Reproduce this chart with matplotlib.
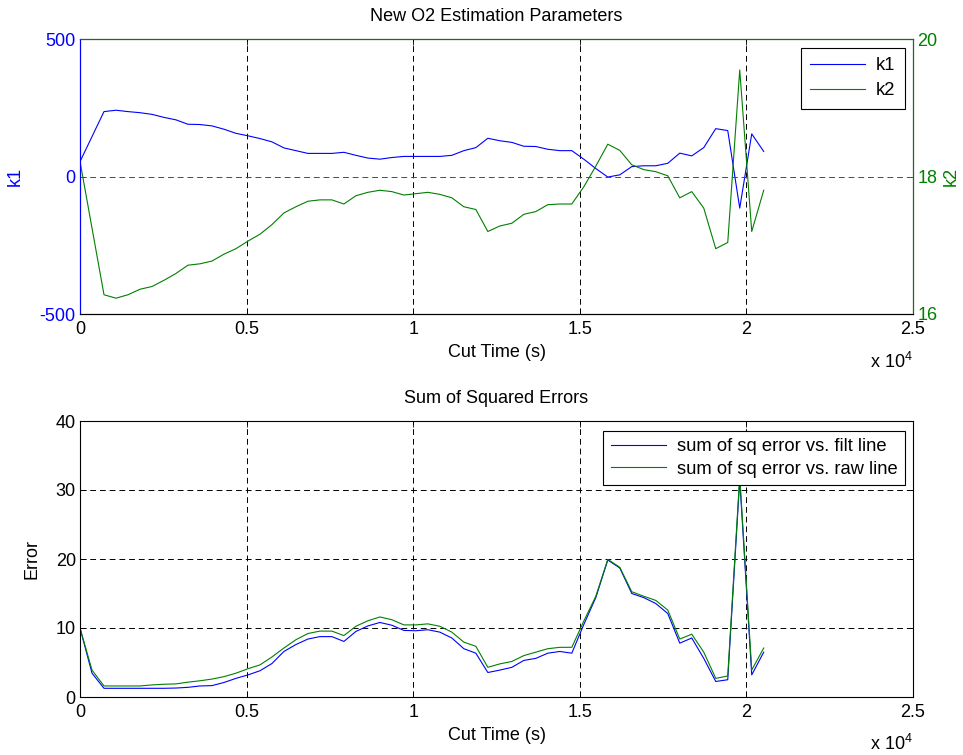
import matplotlib
matplotlib.use('Agg')
import matplotlib.pyplot as plt

plt.rcParams['font.family'] = ['Liberation Sans', 'DejaVu Sans']
plt.rcParams['mathtext.default'] = 'regular'
plt.rcParams['axes.unicode_minus'] = False

# ---- data ----
cut_time = [0, 360, 720, 1080, 1440, 1800, 2160, 2520, 2880, 3240, 3600, 3960,
            4320, 4680, 5040, 5400, 5760, 6120, 6480, 6840, 7200, 7560, 7920,
            8280, 8640, 9000, 9360, 9720, 10080, 10440, 10800, 11160, 11520,
            11880, 12240, 12600, 12960, 13320, 13680, 14040, 14400, 14760,
            15120, 15480, 15840, 16200, 16560, 16920, 17280, 17640, 18000,
            18360, 18720, 19080, 19440, 19800, 20160, 20520]

k1 = [54, 145, 236, 241, 236, 232, 226, 215, 206, 190, 189, 184, 172, 157, 148,
      138, 126, 104, 94, 84, 84, 84, 88, 77, 67, 63, 69, 73, 73, 73, 73, 77, 94,
      105, 139, 130, 124, 110, 109, 99, 94, 94, 63, 29, -2, 6, 36, 39, 39, 48,
      85, 75, 105, 174, 167, -115, 155, 91]

k2 = [18.22, 17.25, 16.28, 16.23, 16.28, 16.36, 16.40, 16.49, 16.59, 16.71,
      16.73, 16.77, 16.87, 16.95, 17.06, 17.16, 17.30, 17.47, 17.56, 17.64,
      17.66, 17.66, 17.60, 17.72, 17.77, 17.80, 17.78, 17.73, 17.75, 17.77,
      17.74, 17.69, 17.56, 17.52, 17.20, 17.28, 17.32, 17.45, 17.49, 17.59,
      17.60, 17.60, 17.85, 18.15, 18.47, 18.38, 18.17, 18.10, 18.07, 18.01,
      17.69, 17.78, 17.54, 16.95, 17.04, 19.55, 17.20, 17.80]

err_filt = [10.0, 3.45, 1.26, 1.26, 1.26, 1.26, 1.26, 1.26, 1.3, 1.4, 1.6, 1.65,
            2.1, 2.7, 3.2, 3.8, 4.85, 6.6, 7.6, 8.4, 8.75, 8.75, 8.05, 9.5, 10.3,
            10.8, 10.4, 9.65, 9.6, 9.75, 9.4, 8.55, 7.0, 6.35, 3.55, 3.9, 4.3,
            5.3, 5.6, 6.35, 6.6, 6.35, 10.5, 14.4, 19.85, 18.7, 15.0, 14.4,
            13.55, 12.1, 7.8, 8.55, 5.6, 2.25, 2.5, 31.5, 3.2, 6.5]

err_raw = [10.0, 3.9, 1.6, 1.6, 1.6, 1.6, 1.75, 1.85, 1.9, 2.15, 2.35, 2.6,
           2.95, 3.45, 4.1, 4.65, 5.8, 7.1, 8.3, 9.2, 9.55, 9.55, 8.9, 10.25,
           11.05, 11.6, 11.2, 10.45, 10.45, 10.6, 10.25, 9.4, 7.95, 7.35, 4.3,
           4.8, 5.15, 6.0, 6.5, 7.0, 7.2, 7.2, 11.0, 14.6, 19.95, 18.8, 15.25,
           14.6, 14.0, 12.6, 8.4, 9.1, 6.5, 2.7, 3.05, 32.0, 3.9, 7.1]

xticks = [0, 5000, 10000, 15000, 20000, 25000]
xtick_labels = ['0', '0.5', '1', '1.5', '2', '2.5']

BLUE = (0, 0, 1)
GREEN = (0, 0.5, 0)
FS = 13
LFS = 13.2
W, H = 963, 755

fig = plt.figure(figsize=(W / 100, H / 100), dpi=100)

def style_ax(ax):
    ax.tick_params(direction='in', length=4, width=0.6, labelsize=FS, pad=3)
    ax.tick_params(axis='x', pad=5)

DASH = (0, (6, 4))

# ---- top panel ----
ax1 = fig.add_axes([80 / W, 1 - 314 / H, 833 / W, 275 / H])
ax2 = ax1.twinx()
l1, = ax1.plot(cut_time, k1, color=BLUE, lw=0.8)
l2, = ax2.plot(cut_time, k2, color=GREEN, lw=0.8)
ax1.set_xlim(0, 25000)
ax1.set_ylim(-500, 500)
ax1.set_yticks([-500, 0, 500])
ax2.set_ylim(16, 20)
ax2.set_yticks([16, 18, 20])
ax1.set_xticks(xticks)
ax1.set_xticklabels(xtick_labels)
style_ax(ax1)
style_ax(ax2)
ax1.tick_params(axis='x', top=True)
ax1.tick_params(axis='y', colors=BLUE)
ax1.tick_params(axis='x', colors='k')
ax2.tick_params(axis='y', colors=GREEN)
ax1.grid(axis='x', color='k', ls=DASH, lw=0.7)
ax2.grid(axis='y', color=GREEN, ls=DASH, lw=0.7)
for s in ['top', 'bottom', 'left', 'right']:
    ax1.spines[s].set_linewidth(0.8)
    ax2.spines[s].set_linewidth(0.8)
ax1.spines['left'].set_color(BLUE)
ax2.spines['left'].set_color(BLUE)
ax2.spines['right'].set_color(GREEN)
ax2.spines['top'].set_color(GREEN)
ax2.spines['bottom'].set_color('k')
ax1.set_title('New O2 Estimation Parameters', fontsize=FS, pad=13)
ax1.set_xlabel('Cut Time (s)', fontsize=FS)
ax1.xaxis.set_label_coords(0.5, -0.109)
ax1.set_ylabel('k1', fontsize=FS, color=BLUE)
ax1.yaxis.set_label_coords(-0.067, 0.5)
ax2.set_ylabel('k2', fontsize=FS, color=GREEN)
ax2.yaxis.set_label_coords(1.036, 0.5)
leg1 = ax2.legend([l1, l2], ['k1', 'k2'], loc='upper right',
                  bbox_to_anchor=(0.990, 0.967), borderaxespad=0,
                  fancybox=False, edgecolor='k', framealpha=1, fontsize=LFS,
                  handlelength=3.0, handletextpad=0.6, borderpad=0.5,
                  labelspacing=0.45)
leg1.get_frame().set_linewidth(0.8)
fig.text(870 / W, 1 - 368 / H, r'x 10$^{4}$', fontsize=FS, ha='left', va='baseline')

# ---- bottom panel ----
ax3 = fig.add_axes([80 / W, 1 - 697 / H, 833 / W, 276 / H])
l3, = ax3.plot(cut_time, err_filt, color=BLUE, lw=0.8)
l4, = ax3.plot(cut_time, err_raw, color=GREEN, lw=0.8)
ax3.set_xlim(0, 25000)
ax3.set_ylim(0, 40)
ax3.set_yticks([0, 10, 20, 30, 40])
ax3.set_xticks(xticks)
ax3.set_xticklabels(xtick_labels)
style_ax(ax3)
ax3.tick_params(top=True, right=True)
ax3.grid(True, color='k', ls=DASH, lw=0.7)
for s in ax3.spines.values():
    s.set_linewidth(0.8)
ax3.set_title('Sum of Squared Errors', fontsize=FS, pad=13)
ax3.set_xlabel('Cut Time (s)', fontsize=FS)
ax3.xaxis.set_label_coords(0.5, -0.109)
ax3.set_ylabel('Error', fontsize=FS)
ax3.yaxis.set_label_coords(-0.048, 0.5)
leg2 = ax3.legend([l3, l4], ['sum of sq error vs. filt line',
                             'sum of sq error vs. raw line'],
                  loc='upper right', bbox_to_anchor=(0.990, 0.964),
                  borderaxespad=0, fancybox=False, edgecolor='k', framealpha=1,
                  fontsize=LFS, handlelength=3.0, handletextpad=0.6,
                  borderpad=0.4, labelspacing=0.3)
leg2.get_frame().set_linewidth(0.8)
fig.text(870 / W, 1 - 750 / H, r'x 10$^{4}$', fontsize=FS, ha='left', va='baseline')

fig.savefig('out.png', dpi=100)
